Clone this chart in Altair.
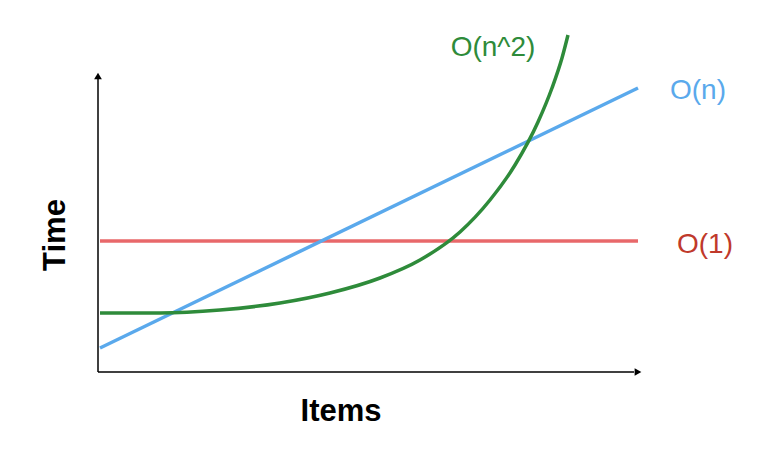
import altair as alt
import pandas as pd

# positions in picture pixels (x right, y down)
const_x = [100, 638]
const_y = [241, 241]
lin_x = [100, 638]
lin_y = [348, 88]
quad_x = [100, 160, 220, 280, 330, 380, 420, 460, 490, 515, 538, 552, 562, 568]
quad_y = [313, 313, 310, 303, 293, 278, 260, 232, 200, 165, 122, 88, 58, 35]

labels = ["O(n^2)", "O(n)", "O(1)"]
label_x = [493, 698, 705]
label_y = [48, 91, 245]
label_col = ["#2e8b3a", "#5aa9ec", "#c0392b"]

xs = alt.Scale(domain=[8, 770], nice=False, zero=False)
ys = alt.Scale(domain=[442, 8], nice=False, zero=False)
X = lambda f: alt.X(f, scale=xs, axis=None)
Y = lambda f: alt.Y(f, scale=ys, axis=None)

def line(xv, yv, color):
    df = pd.DataFrame({"x": xv, "y": yv, "o": range(len(xv))})
    return alt.Chart(df).mark_line(color=color, strokeWidth=3.5, interpolate="monotone").encode(
        x=X("x:Q"), y=Y("y:Q"), order="o:Q")

vaxis = pd.DataFrame({"x": [98], "y": [372], "y2": [78]})
haxis = pd.DataFrame({"x": [98], "x2": [634], "y": [372]})
ax1 = alt.Chart(vaxis).mark_rule(color="black", strokeWidth=1.5).encode(
    x=X("x:Q"), y=Y("y:Q"), y2="y2:Q")
ax2 = alt.Chart(haxis).mark_rule(color="black", strokeWidth=1.5).encode(
    x=X("x:Q"), x2="x2:Q", y=Y("y:Q"))
heads = pd.DataFrame({"x": [98, 638], "y": [76, 372], "s": ["triangle-up", "triangle-right"]})
arrows = alt.Chart(heads).mark_point(filled=True, color="black", size=60, opacity=1).encode(
    x=X("x:Q"), y=Y("y:Q"), shape=alt.Shape("s:N", scale=None))

lab = pd.DataFrame({"t": labels, "x": label_x, "y": label_y, "c": label_col})
texts = alt.Chart(lab).mark_text(font="Liberation Sans", fontSize=28, baseline="middle").encode(
    x=X("x:Q"), y=Y("y:Q"), text="t:N", color=alt.Color("c:N", scale=None))

titles = pd.DataFrame({"t": ["Items"], "x": [341], "y": [412]})
xt = alt.Chart(titles).mark_text(font="Liberation Sans", fontSize=31, fontWeight="bold").encode(
    x=X("x:Q"), y=Y("y:Q"), text="t:N")
yt = alt.Chart(pd.DataFrame({"t": ["Time"], "x": [56], "y": [235]})).mark_text(
    font="Liberation Sans", fontSize=31, fontWeight="bold", angle=270).encode(
    x=X("x:Q"), y=Y("y:Q"), text="t:N")

chart = alt.layer(
    ax1, ax2, arrows,
    line(const_x, const_y, "#e8686a"),
    line(lin_x, lin_y, "#5aa9ec"),
    line(quad_x, quad_y, "#2e8b3a"),
    texts, xt, yt,
).properties(width=762, height=434, padding=0, autosize="none", background="white"
).configure_view(stroke=None)

chart.save("out.html", embed_options={"renderer": "svg", "actions": False})
